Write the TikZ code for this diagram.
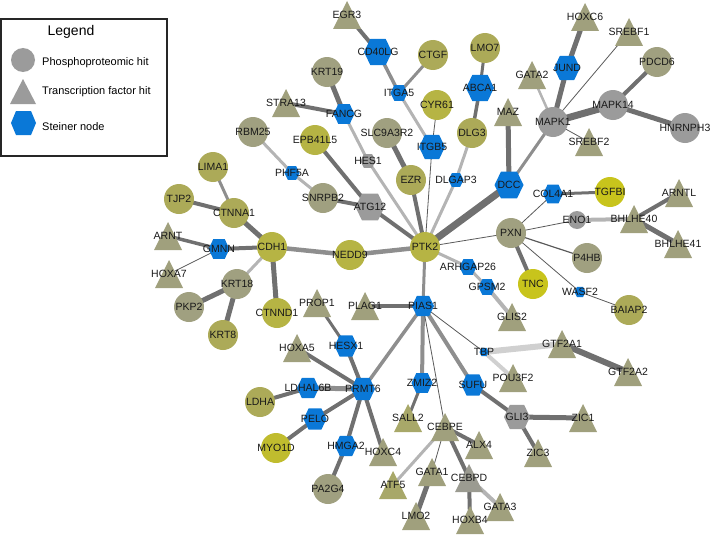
\documentclass[tikz,border=0pt]{standalone}
\usepackage{fontspec}
\setmainfont{Liberation Sans}
\pgfdeclarelayer{background}
\pgfdeclarelayer{foreground}
\pgfsetlayers{background,main,foreground}
\definecolor{olv}{RGB}{172,170,88}
\definecolor{olvy}{RGB}{182,180,68}
\definecolor{ylw}{RGB}{200,196,28}
\definecolor{gol}{RGB}{160,160,128}
\definecolor{gry}{RGB}{155,155,155}
\definecolor{tri}{RGB}{160,160,125}
\definecolor{triy}{RGB}{168,168,105}
\definecolor{trig}{RGB}{155,155,145}
\definecolor{blu}{RGB}{10,120,215}
\definecolor{edk}{RGB}{112,112,112}
\definecolor{emd}{RGB}{142,142,142}
\definecolor{elt}{RGB}{180,180,180}
\definecolor{evl}{RGB}{208,208,208}
\definecolor{eth}{RGB}{90,90,90}
\tikzset{
  lbl/.style={font=\fontsize{10.5}{12}\selectfont, text=black!90, inner sep=0pt},
  dk/.style={draw=edk, line width=#1}, dk/.default=4,
  md/.style={draw=emd, line width=#1}, md/.default=3.5,
  lt/.style={draw=elt, line width=#1}, lt/.default=3,
  vl/.style={draw=evl, line width=#1}, vl/.default=5,
  th/.style={draw=eth, line width=0.8},
}
\newcommand\mycirc[6]{%
  \node[circle,inner sep=0pt,minimum size=#6pt,fill=#5] (#1) at (#2,#3) {};
  \begin{pgfonlayer}{foreground}\node[lbl] at (#1.center) {#4};\end{pgfonlayer}}
\newcommand\mytri[5]{%
  \coordinate (#1) at (#2,#3);
  \fill[#5] (#2,#3-14) -- (#2+14,#3+14) -- (#2-14,#3+14) -- cycle;
  \begin{pgfonlayer}{foreground}\node[lbl] at (#1) {#4};\end{pgfonlayer}}
\newcommand\myhex[6]{%
  \coordinate (#1) at (#2,#3);
  \fill[#5,shift={(#2,#3)},scale=#6] (-1,0)--(-.55,-.93)--(.55,-.93)--(1,0)--(.55,.93)--(-.55,.93)--cycle;
  \begin{pgfonlayer}{foreground}\node[lbl] at (#1) {#4};\end{pgfonlayer}}
\newcommand\E[3]{\begin{pgfonlayer}{background}\path[#3] (#1.center) -- (#2.center);\end{pgfonlayer}}
\begin{document}
\begin{tikzpicture}[x=1pt,y=-1pt]
\useasboundingbox (0,0) rectangle (711,535);
% legend
\draw[line width=1.3, draw=black!85] (1,19) rectangle (167,156);
\node[font=\fontsize{14}{16}\selectfont, inner sep=0pt] (legt) at (71,32) {Legend};
\node[circle, fill=gry, minimum size=24pt, inner sep=0pt] (legc) at (23,60) {};
\fill[gry] (23,79) -- (36,104) -- (10,104) -- cycle;
\coordinate (legtri) at (23,92);
\fill[blu] (11,123) -- (16,111) -- (31,111) -- (36,123) -- (31,135) -- (16,135) -- cycle;
\coordinate (leghex) at (23,123);
\node[anchor=west, font=\fontsize{11}{13}\selectfont, inner sep=0pt] (l1) at (42,63) {Phosphoproteomic hit};
\node[anchor=west, font=\fontsize{11}{13}\selectfont, inner sep=0pt] (l2) at (42,92) {Transcription factor hit};
\node[anchor=west, font=\fontsize{11}{13}\selectfont, inner sep=0pt] (l3) at (42,127) {Steiner node};
% circles
\mycirc{CTGF}{433}{55}{CTGF}{olv}{30}
\mycirc{KRT19}{327}{72}{KRT19}{gol}{30}
\mycirc{LMO7}{485}{48}{LMO7}{olv}{30}
\mycirc{PDCD6}{657}{62}{PDCD6}{gol}{30}
\mycirc{CYR61}{437}{105}{CYR61}{olvy}{30}
\mycirc{MAPK14}{613}{105}{MAPK14}{gry}{30}
\mycirc{MAPK1}{553}{122}{MAPK1}{gry}{30}
\mycirc{HNRNPH3}{685}{128}{HNRNPH3}{gry}{30}
\mycirc{RBM25}{253}{132}{RBM25}{gol}{30}
\mycirc{SLC9A3R2}{387}{133}{SLC9A3R2}{gol}{30}
\mycirc{DLG3}{472}{133}{DLG3}{olv}{30}
\mycirc{EPB41L5}{315}{140}{EPB41L5}{olvy}{30}
\mycirc{LIMA1}{213}{167}{LIMA1}{olv}{30}
\mycirc{EZR}{411}{180}{EZR}{olv}{30}
\mycirc{SNRPB2}{323}{198}{SNRPB2}{gol}{30}
\mycirc{TGFBI}{610}{192}{TGFBI}{ylw}{30}
\mycirc{TJP2}{179}{199}{TJP2}{olv}{30}
\mycirc{CTNNA1}{234}{213}{CTNNA1}{olv}{30}
\mycirc{ENO1}{577}{220}{ENO1}{gry}{18}
\mycirc{PXN}{511}{233}{PXN}{gol}{30}
\mycirc{CDH1}{272}{247}{CDH1}{olvy}{30}
\mycirc{PTK2}{425}{247}{PTK2}{olvy}{30}
\mycirc{NEDD9}{350}{255}{NEDD9}{olvy}{30}
\mycirc{P4HB}{587}{258}{P4HB}{gol}{30}
\mycirc{KRT18}{237}{284}{KRT18}{gol}{30}
\mycirc{TNC}{533}{284}{TNC}{ylw}{30}
\mycirc{PKP2}{189}{307}{PKP2}{gol}{30}
\mycirc{BAIAP2}{629}{310}{BAIAP2}{olv}{30}
\mycirc{CTNND1}{277}{313}{CTNND1}{olvy}{30}
\mycirc{KRT8}{223}{335}{KRT8}{olv}{30}
\mycirc{LDHA}{260}{402}{LDHA}{olv}{30}
\mycirc{MYO1D}{276}{448}{MYO1D}{ylw!70!olv}{30}
\mycirc{PA2G4}{328}{489}{PA2G4}{gol}{30}
% hexagons
\myhex{CD40LG}{378}{52}{CD40LG}{blu}{14}
\myhex{ITGA5}{399}{93}{ITGA5}{blu}{8.5}
\myhex{ABCA1}{480}{88}{ABCA1}{blu}{14}
\myhex{JUND}{567}{68}{JUND}{blu}{13}
\myhex{FANCG}{344}{114}{FANCG}{blu}{10.5}
\myhex{ITGB5}{432}{147}{ITGB5}{blu}{13}
\myhex{HES1}{368}{161}{HES1}{gry}{7.5}
\myhex{PHF5A}{292}{173}{PHF5A}{blu}{7.5}
\myhex{DLGAP3}{456}{180}{DLGAP3}{blu}{7.5}
\myhex{DCC}{509}{185}{DCC}{blu}{14.5}
\myhex{COL4A1}{553}{194}{COL4A1}{blu}{10}
\myhex{ATG12}{370}{207}{ATG12}{gry}{14.5}
\myhex{GMNN}{219}{249}{GMNN}{blu}{10.5}
\myhex{ARHGAP26}{468}{267}{ARHGAP26}{blu}{8.5}
\myhex{GPSM2}{487}{287}{GPSM2}{blu}{8.5}
\myhex{WASF2}{580}{292}{WASF2}{blu}{5.5}
\myhex{PIAS1}{423}{306}{PIAS1}{blu}{11}
\myhex{HESX1}{346}{346}{HESX1}{blu}{11.5}
\myhex{TBP}{484}{352}{TBP}{blu}{4.5}
\myhex{ZMIZ2}{422}{383}{ZMIZ2}{blu}{10.5}
\myhex{SUFU}{473}{385}{SUFU}{blu}{11.5}
\myhex{PRMT6}{363}{389}{PRMT6}{blu}{12}
\myhex{LDHAL6B}{308}{388}{LDHAL6B}{blu}{11}
\myhex{GLI3}{517}{417}{GLI3}{gry}{13}
\myhex{PELO}{315}{419}{PELO}{blu}{11.5}
\myhex{HMGA2}{346}{446}{HMGA2}{blu}{11}
% triangles
\mytri{EGR3}{347}{15}{EGR3}{tri}
\mytri{HOXC6}{585}{17}{HOXC6}{tri}
\mytri{SREBF1}{629}{32}{SREBF1}{tri}
\mytri{GATA2}{532}{75}{GATA2}{tri}
\mytri{MAZ}{508}{112}{MAZ}{tri}
\mytri{STRA13}{286}{103}{STRA13}{tri}
\mytri{SREBF2}{589}{142}{SREBF2}{tri}
\mytri{ARNTL}{679}{193}{ARNTL}{tri}
\mytri{BHLHE40}{634}{219}{BHLHE40}{tri}
\mytri{ARNT}{168}{236}{ARNT}{tri}
\mytri{BHLHE41}{678}{244}{BHLHE41}{tri}
\mytri{HOXA7}{169}{274}{HOXA7}{tri}
\mytri{PROP1}{317}{303}{PROP1}{tri}
\mytri{PLAG1}{365}{306}{PLAG1}{tri}
\mytri{GLIS2}{512}{317}{GLIS2}{tri}
\mytri{GTF2A1}{562}{344}{GTF2A1}{tri}
\mytri{HOXA5}{297}{348}{HOXA5}{tri}
\mytri{GTF2A2}{628}{372}{GTF2A2}{tri}
\mytri{POU3F2}{513}{378}{POU3F2}{tri}
\mytri{ZIC1}{583}{418}{ZIC1}{tri}
\mytri{SALL2}{408}{418}{SALL2}{triy}
\mytri{CEBPE}{445}{427}{CEBPE}{tri}
\mytri{ALX4}{479}{445}{ALX4}{tri}
\mytri{HOXC4}{383}{452}{HOXC4}{tri}
\mytri{ZIC3}{538}{453}{ZIC3}{tri}
\mytri{GATA1}{432}{472}{GATA1}{tri}
\mytri{CEBPD}{469}{478}{CEBPD}{trig}
\mytri{ATF5}{393}{485}{ATF5}{triy}
\mytri{GATA3}{500}{507}{GATA3}{tri}
\mytri{LMO2}{416}{516}{LMO2}{tri}
\mytri{HOXB4}{470}{520}{HOXB4}{tri}
% edges
\E{EGR3}{CD40LG}{dk=4}
\E{CD40LG}{ITGA5}{md=3.5}
\E{ITGA5}{CTGF}{md=3}
\E{ITGA5}{ITGB5}{lt=3}
\E{ITGB5}{CYR61}{th}
\E{ITGB5}{PTK2}{th}
\E{KRT19}{FANCG}{dk=5}
\E{STRA13}{FANCG}{dk=4}
\E{FANCG}{HES1}{lt=3}
\E{HES1}{PTK2}{lt=3}
\E{RBM25}{PHF5A}{lt=3}
\E{PHF5A}{SNRPB2}{lt=3}
\E{SNRPB2}{ATG12}{dk=4}
\E{EPB41L5}{ATG12}{dk=4}
\E{ATG12}{PTK2}{dk=4}
\E{SLC9A3R2}{EZR}{dk=5}
\E{EZR}{PTK2}{dk=4}
\E{LMO7}{ABCA1}{dk=3}
\E{ABCA1}{DLG3}{dk=3.5}
\E{DLG3}{DLGAP3}{lt=3}
\E{DLGAP3}{PTK2}{lt=3}
\E{MAZ}{DCC}{dk=5}
\E{DCC}{PTK2}{dk=7}
\E{DCC}{MAPK1}{md=3}
\E{MAPK1}{GATA2}{lt=2.5}
\E{MAPK1}{JUND}{dk=5}
\E{JUND}{HOXC6}{dk=5}
\E{MAPK1}{SREBF1}{th}
\E{MAPK1}{SREBF2}{th}
\E{MAPK1}{MAPK14}{dk=7}
\E{MAPK14}{PDCD6}{dk=4}
\E{MAPK14}{HNRNPH3}{dk=5}
\E{PTK2}{PXN}{th}
\E{PXN}{COL4A1}{th}
\E{COL4A1}{TGFBI}{dk=3}
\E{PXN}{ENO1}{th}
\E{ENO1}{BHLHE40}{lt=4}
\E{BHLHE40}{ARNTL}{dk=4}
\E{BHLHE40}{BHLHE41}{dk=5}
\E{PXN}{P4HB}{draw=eth,line width=1.2}
\E{PXN}{TNC}{dk=4}
\E{PXN}{WASF2}{th}
\E{WASF2}{BAIAP2}{th}
\E{PTK2}{ARHGAP26}{lt=3}
\E{ARHGAP26}{GPSM2}{lt=3}
\E{GPSM2}{GLIS2}{lt=4}
\E{PTK2}{NEDD9}{md=4.5}
\E{NEDD9}{CDH1}{md=4.5}
\E{CDH1}{CTNNA1}{dk=5}
\E{CTNNA1}{LIMA1}{md=3}
\E{CTNNA1}{TJP2}{dk=4}
\E{CDH1}{GMNN}{dk=4}
\E{GMNN}{ARNT}{dk=3.5}
\E{GMNN}{HOXA7}{th}
\E{CDH1}{KRT18}{lt=3}
\E{KRT18}{PKP2}{dk=5}
\E{KRT18}{KRT8}{dk=5}
\E{CDH1}{CTNND1}{dk=5}
\E{PTK2}{PIAS1}{md=3}
\E{PIAS1}{PLAG1}{dk=4.5}
\E{PIAS1}{PRMT6}{md=3.5}
\E{PIAS1}{ZMIZ2}{md=4}
\E{PIAS1}{CEBPE}{th}
\E{PIAS1}{SUFU}{md=4}
\E{PIAS1}{TBP}{th}
\E{TBP}{GTF2A1}{vl=6}
\E{TBP}{POU3F2}{vl=4}
\E{GTF2A1}{GTF2A2}{dk=6}
\E{SUFU}{GLI3}{dk=4}
\E{GLI3}{ZIC1}{dk=5}
\E{GLI3}{ZIC3}{dk=4}
\E{PROP1}{HESX1}{dk=3}
\E{HESX1}{PRMT6}{dk=4}
\E{HOXA5}{PRMT6}{dk=4}
\E{LDHAL6B}{PRMT6}{md=5}
\E{LDHA}{LDHAL6B}{dk=4}
\E{PELO}{PRMT6}{dk=4}
\E{MYO1D}{PELO}{dk=4}
\E{PRMT6}{HMGA2}{dk=4}
\E{HMGA2}{PA2G4}{dk=4}
\E{PRMT6}{HOXC4}{dk=4}
\E{ZMIZ2}{SALL2}{dk=3}
\E{CEBPE}{ATF5}{lt=3}
\E{CEBPE}{GATA1}{th}
\E{CEBPE}{ALX4}{dk=4}
\E{CEBPE}{CEBPD}{dk=4}
\E{GATA1}{LMO2}{dk=5}
\E{CEBPD}{HOXB4}{dk=4}
\E{CEBPD}{GATA3}{lt=4}
\end{tikzpicture}
\end{document}
